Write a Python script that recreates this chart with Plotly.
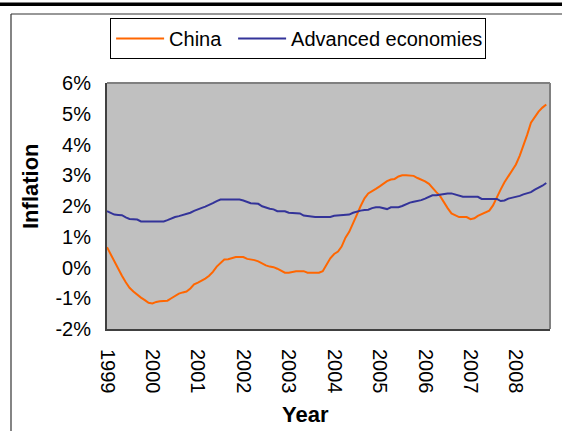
import pandas as pd
import plotly.graph_objects as go

# Monthly inflation, 12-month figures, Jan 1999 - Sep 2008 (percent)
months = pd.date_range("1999-01-01", periods=117, freq="MS")

china = [
    0.66, 0.41, 0.18, -0.06, -0.27, -0.48, -0.66, -0.78, -0.89, -0.98, -1.06, -1.15,
    -1.17, -1.12, -1.10, -1.10, -1.08, -1.00, -0.92, -0.85, -0.81, -0.78, -0.68, -0.55,
    -0.49, -0.43, -0.36, -0.27, -0.14, 0.03, 0.15, 0.26, 0.27, 0.31, 0.34, 0.34,
    0.34, 0.28, 0.27, 0.24, 0.20, 0.12, 0.07, 0.03, 0.01, -0.04, -0.11, -0.17,
    -0.17, -0.14, -0.12, -0.12, -0.12, -0.17, -0.17, -0.17, -0.17, -0.12, 0.10, 0.30,
    0.44, 0.52, 0.68, 0.97, 1.16, 1.42, 1.71, 2.00, 2.25, 2.41, 2.50, 2.56,
    2.64, 2.74, 2.81, 2.86, 2.88, 2.96, 3.00, 3.00, 3.00, 2.98, 2.91, 2.86,
    2.80, 2.72, 2.58, 2.45, 2.33, 2.12, 1.93, 1.76, 1.69, 1.64, 1.64, 1.64,
    1.57, 1.60, 1.68, 1.73, 1.79, 1.85, 2.02, 2.30, 2.54, 2.77, 2.97, 3.15,
    3.35, 3.64, 3.95, 4.32, 4.71, 4.90, 5.07, 5.20, 5.30,
]

advanced = [
    1.83, 1.76, 1.72, 1.71, 1.70, 1.63, 1.58, 1.57, 1.56, 1.50, 1.50, 1.50,
    1.50, 1.50, 1.50, 1.50, 1.54, 1.60, 1.64, 1.67, 1.70, 1.73, 1.78, 1.84,
    1.90, 1.94, 1.98, 2.03, 2.09, 2.16, 2.21, 2.21, 2.21, 2.21, 2.21, 2.21,
    2.18, 2.13, 2.09, 2.08, 2.07, 1.99, 1.94, 1.91, 1.89, 1.83, 1.83, 1.83,
    1.78, 1.77, 1.77, 1.76, 1.69, 1.67, 1.64, 1.64, 1.64, 1.64, 1.64, 1.64,
    1.68, 1.69, 1.69, 1.69, 1.72, 1.78, 1.82, 1.85, 1.87, 1.88, 1.93, 1.96,
    1.96, 1.93, 1.90, 1.96, 1.96, 1.96, 2.00, 2.06, 2.11, 2.14, 2.16, 2.19,
    2.24, 2.30, 2.35, 2.35, 2.37, 2.41, 2.41, 2.41, 2.37, 2.33, 2.30, 2.30,
    2.30, 2.30, 2.30, 2.23, 2.23, 2.23, 2.23, 2.23, 2.16, 2.18, 2.24, 2.27,
    2.29, 2.33, 2.38, 2.41, 2.45, 2.53, 2.59, 2.66, 2.75,
]

year_ticks = [f"{y}-01-01" for y in range(1999, 2009)]
year_labels = [str(y) for y in range(1999, 2009)]
y_ticks = list(range(-2, 7))
y_labels = [f"{v}%" for v in y_ticks]

FONT = "Liberation Sans, Arial, sans-serif"

fig = go.Figure()
fig.add_trace(go.Scatter(x=months, y=china, name="China", mode="lines",
                         line=dict(color="#FF6600", width=2), legendwidth=59))
fig.add_trace(go.Scatter(x=months, y=advanced, name="Advanced economies", mode="lines",
                         line=dict(color="#333399", width=2), legendwidth=189))

fig.update_layout(
    width=562, height=431,
    margin=dict(l=107, r=12, t=83, b=102),
    paper_bgcolor="white",
    plot_bgcolor="#C0C0C0",
    font=dict(family=FONT, color="black", size=20),
    showlegend=True,
    legend=dict(
        orientation="h", x=0.007, y=1.264, xanchor="left", yanchor="top",
        bordercolor="black", borderwidth=1, bgcolor="white",
        font=dict(size=20, family=FONT, color="black"),
        itemwidth=48,
    ),
    xaxis=dict(
        type="date",
        range=["1999-01-01", "2008-10-01"],
        tickvals=year_ticks, ticktext=year_labels,
        tickangle=90, tickfont=dict(size=20),
        showgrid=False, zeroline=False,
        showline=True, linecolor="#404040", linewidth=2,
        ticks="", ticklabelstandoff=14,
    ),
    yaxis=dict(
        range=[-2, 6], tickvals=y_ticks, ticktext=y_labels,
        tickfont=dict(size=20),
        showgrid=False, zeroline=False,
        showline=True, linecolor="#404040", linewidth=2,
        ticks="outside", ticklen=10, tickcolor="rgba(0,0,0,0)",
    ),
    annotations=[
        dict(text="<b>Inflation</b>", textangle=-90, xref="paper", yref="paper",
             x=-0.174, y=0.581, xanchor="center", yanchor="middle",
             showarrow=False, font=dict(size=22)),
        dict(text="<b>Year</b>", xref="paper", yref="paper",
             x=0.449, y=-0.346, xanchor="center", yanchor="middle",
             showarrow=False, font=dict(size=22)),
    ],
    shapes=[
        # lighter frame on the top and right of the plot area
        dict(type="line", xref="paper", yref="paper", x0=0, x1=1, y0=1, y1=1,
             line=dict(color="#808080", width=2)),
        dict(type="line", xref="paper", yref="paper", x0=1, x1=1, y0=0, y1=1,
             line=dict(color="#808080", width=2)),
        # heavy rule across the top of the page
        dict(type="rect", xref="paper", yref="paper",
             x0=-107 / 443, x1=(562 - 107) / 443,
             y0=(329 - 6) / 246, y1=(329 - 2.5) / 246,
             fillcolor="black", line=dict(width=0), layer="above"),
        # chart frame: top and left edges
        dict(type="line", xref="paper", yref="paper",
             x0=(11 - 107) / 443, x1=(562 - 107) / 443,
             y0=(329 - 14) / 246, y1=(329 - 14) / 246,
             line=dict(color="#333333", width=1.2)),
        dict(type="line", xref="paper", yref="paper",
             x0=(11 - 107) / 443, x1=(11 - 107) / 443,
             y0=(329 - 14) / 246, y1=(329 - 431) / 246,
             line=dict(color="#333333", width=1.2)),
    ],
)

fig.write_html("out.html")
